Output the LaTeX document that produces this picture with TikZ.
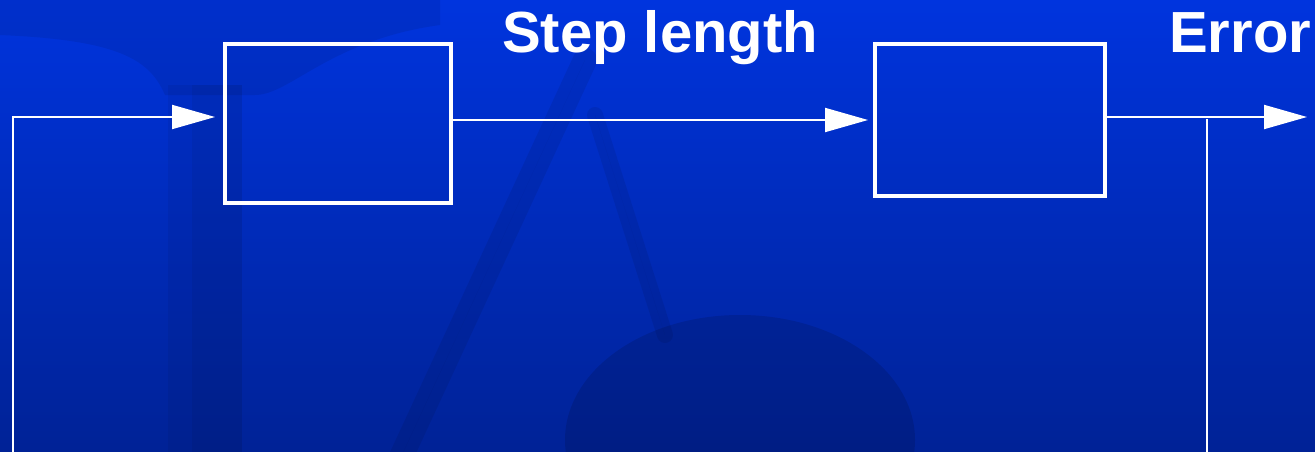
\documentclass[tikz,border=0pt]{standalone}
\usepackage{fontspec}
\setmainfont{Liberation Sans}
\usetikzlibrary{arrows.meta,calc}
\definecolor{bgtop}{RGB}{0,52,222}
\definecolor{bgbot}{RGB}{0,34,150}
\tikzset{
  blockbox/.style={draw=white, line width=4pt, rectangle, inner sep=0pt},
  wire/.style={draw=white, line width=2pt},
  flow/.style={wire, -{Triangle[length=43pt,width=24pt]}},
  heading/.style={text=white, font=\bfseries\fontsize{58pt}{62pt}\selectfont, inner sep=0pt, anchor=base west},
  ghost/.style={fill=black, draw=none, opacity=0.08},
}
\begin{document}
\begin{tikzpicture}[x=1pt,y=-1pt]
  % backdrop with vertical gradient
  \shade[top color=bgtop, bottom color=bgbot] (0,0) rectangle (1315,452);
  \useasboundingbox (0,0) rectangle (1315,452);

  % faint photograph shapes in the backdrop
  \fill[ghost] (0,0) -- (440,0) -- (440,25) .. controls (330,40) and (290,95) .. (255,95)
        -- (165,95) .. controls (150,60) and (120,40) .. (0,35) -- cycle;
  \fill[ghost, opacity=0.1] (192,85) rectangle (242,452);
  \fill[ghost, opacity=0.05] (168,85) rectangle (192,452);
  \draw[ghost, draw=black, line width=24pt, line cap=round] (585,60) -- (395,470);
  \draw[ghost, draw=black, line width=16pt, line cap=round] (595,115) -- (665,335);
  \fill[ghost, opacity=0.12] (740,440) ellipse [x radius=175, y radius=125];

  % blocks
  \node[blockbox, minimum width=226pt, minimum height=159pt] (b1) at (338,123.5) {};
  \node[blockbox, minimum width=230pt, minimum height=151pt] (b2) at (990,120) {};

  % labels
  \node[heading] (lstep) at (502,53) {Step length};
  \node[heading] (lerr) at (1169,53) {Error};

  % connector end points
  \coordinate (fbin) at (13,452);
  \coordinate (inpt) at (13,117);
  \coordinate (outpt) at (1307,117);
  \coordinate (tap) at (1207,119);
  \coordinate (tapbot) at (1207,452);

  % signal path
  \draw[flow, shorten >=8pt] (fbin) -- (inpt) -- (inpt -| b1.west);
  \draw[flow, shorten >=5pt] ($(b1.east)+(0,-3.5)$) -- ($(b2.west)+(0,0)$);
  \draw[flow] ($(b2.east)+(-4,-3)$) -- (outpt);
  \draw[wire] (tap) -- (tapbot);
\end{tikzpicture}
\end{document}
